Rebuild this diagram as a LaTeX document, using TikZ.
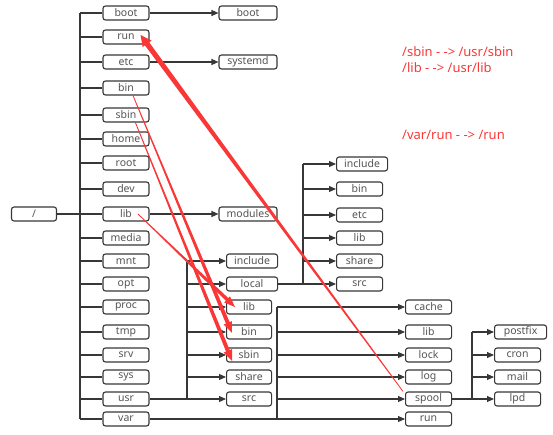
\documentclass[tikz,border=0pt]{standalone}
\usepackage{fontspec}
\setmainfont{Noto Sans}
\usetikzlibrary{arrows.meta, positioning, calc}
\definecolor{linegray}{RGB}{55,55,55}
\definecolor{textgray}{RGB}{85,85,85}
\definecolor{markred}{RGB}{250,55,55}

% tapered red arrow: from, to, half shaft width, half head width
\newcommand{\taper}[4]{%
  \coordinate (tp-h) at ($(#2)!11pt!(#1)$);
  \fill[markred] ($(#1)!0.4pt!90:(#2)$) -- ($(tp-h)!#3!90:(#2)$) -- ($(tp-h)!#4!90:(#2)$)
    -- (#2) -- ($(tp-h)!#4!-90:(#2)$) -- ($(tp-h)!#3!-90:(#2)$) -- ($(#1)!0.4pt!-90:(#2)$) -- cycle;}

\begin{document}
\begin{tikzpicture}[
          x=1pt, y=-1pt,
          dirbox/.style={draw=linegray, line width=1.1pt, rounded corners=2.5pt, fill=white,
            minimum width=46pt, minimum height=14pt, inner sep=0pt,
            text=textgray, font=\fontsize{10.5}{11}\selectfont},
          widebox/.style={dirbox, minimum width=58pt},
          line/.style={draw=linegray, line width=1.1pt},
          link/.style={line, -{Triangle[length=7pt, width=6pt]}},
          note/.style={anchor=west, inner sep=0pt, text=markred, font=\fontsize{13}{15}\selectfont}
        ]
        \useasboundingbox (0,0) rectangle (553,435);

        \coordinate (rootbus) at (80,0);
        \coordinate (usrbus) at (187,0);
        \coordinate (localbus) at (303,0);
        \coordinate (varbus) at (277,0);
        \coordinate (spoolbus) at (472,0);

        % top level
        \node [dirbox, minimum width=45pt] (slash) at (34,214) {/};
        \node [dirbox] (boot) at (126,13) {boot};
        \node [dirbox] (run) at (126,37) {run};
        \node [dirbox] (etc) at (126,62) {etc};
        \node [dirbox] (bin) at (126,88) {bin};
        \node [dirbox] (sbin) at (126,115) {sbin};
        \node [dirbox] (home) at (126,139) {home};
        \node [dirbox] (root) at (126,163) {root};
        \node [dirbox] (dev) at (126,189) {dev};
        \node [dirbox] (lib) at (126,214) {lib};
        \node [dirbox] (media) at (126,238) {media};
        \node [dirbox] (mnt) at (126,261) {mnt};
        \node [dirbox] (opt) at (126,284) {opt};
        \node [dirbox] (proc) at (126,307) {proc};
        \node [dirbox] (tmp) at (126,332) {tmp};
        \node [dirbox] (srv) at (126,355) {srv};
        \node [dirbox] (sys) at (126,377) {sys};
        \node [dirbox] (usr) at (126,399) {usr};
        \node [dirbox] (var) at (126,419) {var};

        \node [widebox] (bootdir) at (248,13) {boot};
        \node [widebox] (systemd) at (248,62) {systemd};
        \node [widebox] (modules) at (248,214) {modules};

        % /usr
        \node [dirbox, anchor=west, minimum width=51pt] (uinclude) at (226,261) {include};
        \node [dirbox, anchor=west, minimum width=51pt] (ulocal) at (226,284) {local};
        \node [dirbox, anchor=west, minimum width=45pt] (ulib) at (226,307) {lib};
        \node [dirbox, anchor=west, minimum width=45pt] (ubin) at (226,332) {bin};
        \node [dirbox, anchor=west, minimum width=45pt] (usbin) at (226,355) {sbin};
        \node [dirbox, anchor=west, minimum width=45pt] (ushare) at (226,377) {share};
        \node [dirbox, anchor=west, minimum width=45pt] (usrc) at (226,399) {src};

        % /usr/local
        \node [dirbox, anchor=west, minimum width=51pt] (linclude) at (336,164) {include};
        \node [dirbox, anchor=west] (lbin) at (336,189) {bin};
        \node [dirbox, anchor=west] (letc) at (336,215) {etc};
        \node [dirbox, anchor=west] (llib) at (336,238) {lib};
        \node [dirbox, anchor=west] (lshare) at (336,261) {share};
        \node [dirbox, anchor=west] (lsrc) at (336,284) {src};

        % /var
        \node [dirbox, anchor=west] (vcache) at (405,307) {cache};
        \node [dirbox, anchor=west] (vlib) at (405,332) {lib};
        \node [dirbox, anchor=west] (vlock) at (405,355) {lock};
        \node [dirbox, anchor=west] (vlog) at (405,377) {log};
        \node [dirbox, anchor=west] (vspool) at (405,399) {spool};
        \node [dirbox, anchor=west] (vrun) at (405,419) {run};

        % /var/spool
        \node [dirbox, anchor=west, minimum width=52pt] (postfix) at (494,332) {postfix};
        \node [dirbox, anchor=west] (cron) at (494,355) {cron};
        \node [dirbox, anchor=west] (mail) at (494,377) {mail};
        \node [dirbox, anchor=west] (lpd) at (494,399) {lpd};

        % connectors
        \draw [line] (rootbus |- boot) -- (rootbus |- var);
        \draw [line] (slash) -- (lib);
        \foreach \n in {boot,run,etc,bin,sbin,home,root,dev,media,mnt,opt,proc,tmp,srv,sys,usr,var}
          \draw [line] (rootbus |- \n) -- (\n);
        \draw [link] (boot) -- (bootdir);
        \draw [link] (etc) -- (systemd);
        \draw [link] (lib) -- (modules);

        \draw [link] (usr) -- (usrc);
        \draw [line] (usrbus |- uinclude) -- (usrbus |- usrc);
        \foreach \n in {uinclude,ulocal,ulib,ubin,usbin,ushare}
          \draw [link] (usrbus |- \n) -- (\n);

        \draw [link] (ulocal) -- (lsrc);
        \draw [line] (localbus |- linclude) -- (localbus |- lsrc);
        \foreach \n in {linclude,lbin,letc,llib,lshare}
          \draw [link] (localbus |- \n) -- (\n);

        \draw [link] (var) -- (vrun);
        \draw [line] (varbus |- vcache) -- (varbus |- vrun);
        \foreach \n in {vcache,vlib,vlock,vlog,vspool}
          \draw [link] (varbus |- \n) -- (\n);

        \draw [link] (vspool) -- (lpd);
        \draw [line] (spoolbus |- postfix) -- (spoolbus |- lpd);
        \foreach \n in {postfix,cron,mail}
          \draw [link] (spoolbus |- \n) -- (\n);

        % red links
        \coordinate (binA) at ([xshift=7pt]bin.south);
        \coordinate (binB) at ([xshift=6pt, yshift=-1pt]ubin.west);
        \coordinate (sbinA) at ([xshift=9pt, yshift=1pt]sbin.south);
        \coordinate (sbinB) at ([xshift=6pt, yshift=-6pt]usbin.west);
        \coordinate (libA) at ([xshift=12pt]lib.center);
        \coordinate (libB) at ([xshift=9pt]ulib.west);
        \coordinate (runA) at ([xshift=-2pt]vspool.north west);
        \coordinate (runB) at ([xshift=-9pt, yshift=2pt]run.east);
        \taper{binA}{binB}{2pt}{4.5pt}
        \taper{sbinA}{sbinB}{2pt}{4.5pt}
        \taper{libA}{libB}{1.8pt}{4.2pt}
        \taper{runA}{runB}{2.6pt}{5.5pt}

        \node [note] (noteA) at (402,52) {/sbin - -> /usr/sbin};
        \node [note] (noteB) at (402,68) {/lib - -> /usr/lib};
        \node [note] (noteC) at (402,135) {/var/run - -> /run};
\end{tikzpicture}
\end{document}
